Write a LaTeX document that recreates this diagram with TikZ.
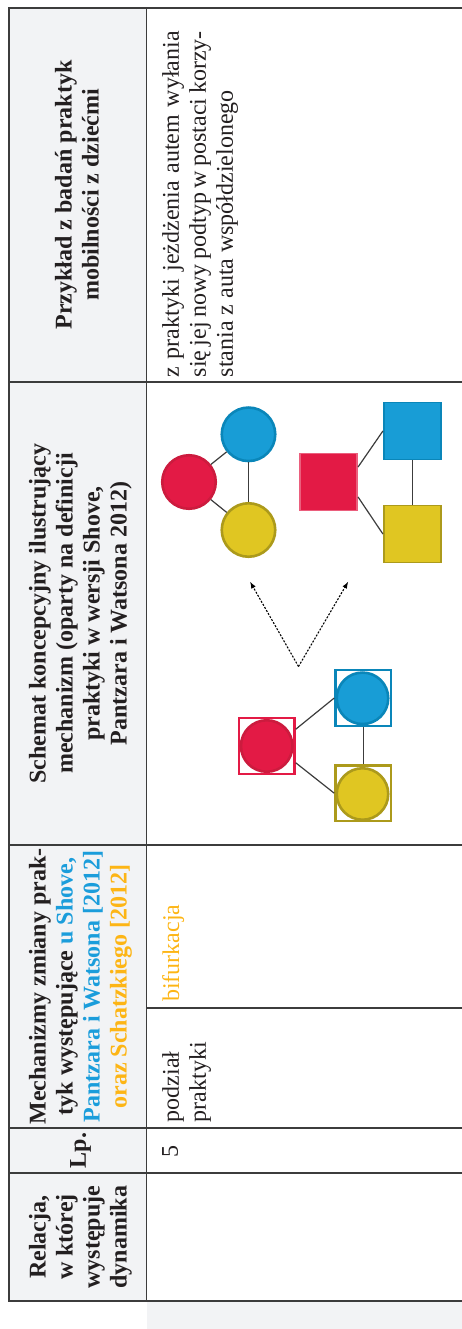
\documentclass[tikz,border=0pt]{standalone}
\usepackage{fontspec}
\setmainfont{Liberation Serif}
\usetikzlibrary{arrows.meta}

\definecolor{hdrgrey}{HTML}{F2F3F5}
\definecolor{rulegrey}{HTML}{3C3C3C}
\definecolor{txtblack}{HTML}{231F20}
\definecolor{shoveblue}{HTML}{1B9DDB}
\definecolor{schatzorange}{HTML}{FDB515}
\definecolor{elred}{HTML}{E31A45}
\definecolor{elredline}{HTML}{CC1B3E}
\definecolor{elblue}{HTML}{189DD6}
\definecolor{elblueline}{HTML}{0A86B9}
\definecolor{elyellow}{HTML}{E0C622}
\definecolor{elyellowline}{HTML}{AC9A1B}

\tikzset{
  hdr/.style={rotate=90, inner sep=0pt, align=center, text=txtblack,
    font=\bfseries\fontsize{24}{27}\selectfont},
  cell/.style={rotate=90, inner sep=0pt, anchor=north west, text=txtblack,
    font=\fontsize{24}{27}\selectfont},
  element/.style={circle, minimum size=53.5pt, inner sep=0pt, line width=2.6pt},
  material/.style={rectangle, minimum size=57pt, inner sep=0pt, line width=1.6pt},
  link/.style={draw=rulegrey, line width=1.2pt},
  splitarrow/.style={-{Latex[length=7pt,width=5pt]}, line width=1.1pt,
    dash pattern=on 2pt off 1.5pt},
}

\begin{document}
\begin{tikzpicture}[x=1pt,y=-1pt]
    \useasboundingbox (0,0) rectangle (462,1329);
    % Table background and rules.
    \fill[hdrgrey] (9,8) rectangle (146.7,1301);
    \fill[hdrgrey] (146.7,1301) rectangle (462,1329);
    \draw[rulegrey, line width=1.5pt] (462,8) -- (9,8) -- (9,1301) -- (462,1301);
    \draw[rulegrey, line width=1.5pt] (146.7,8) -- (146.7,1301);
    \foreach \y in {382,845,1128,1173}
        \draw[rulegrey, line width=1.5pt] (9,\y) -- (462,\y);
    \draw[rulegrey, line width=1.5pt] (146.7,1008) -- (462,1008);

    % Header column.
    \node[hdr] (hexample) at (77,195) {Przykład z badań praktyk\\mobilności z dziećmi};
    \node[hdr] (hscheme) at (80.4,613.5) {Schemat koncepcyjny ilustrujący\\mechanizm (oparty na definicji\\praktyki w wersji Shove,\\Pantzara i Watsona 2012)};
    \node[hdr] (hmech) at (80.4,986.5) {Mechanizmy zmiany prak-\\tyk występujące \textcolor{shoveblue}{u Shove,}\\\textcolor{shoveblue}{Pantzara i Watsona [2012]}\\\textcolor{schatzorange}{oraz Schatzkiego [2012]}};
    \node[hdr] (hlp) at (80.5,1150.5) {Lp.};
    \node[hdr] (hrel) at (80.4,1237) {Relacja,\\w której\\występuje\\dynamika};

    % Data column.
    \node[cell, text width=346pt, align=justify] (dexample) at (162,377.5) {z praktyki jeżdżenia autem wyłania\linebreak się jej nowy podtyp w postaci korzy-\linebreak stania z auta współdzielonego};
    \node[cell, text=schatzorange] (dbif) at (162,1002) {bifurkacja};
    \node[cell, align=left] (dsplit) at (162,1122.5) {podział\\praktyki};
    \node[cell, anchor=north] (dnum) at (162,1151) {5};

    % Schema: elements as circles, materials as squares.
    \node[element, fill=elred, draw=elredline] (cred) at (189,482) {};
    \node[element, fill=elblue, draw=elblueline] (cblue) at (248.5,434.3) {};
    \node[element, fill=elyellow, draw=elyellowline] (cyellow) at (248.5,530) {};
    \draw[link] (cred) -- (cblue);
    \draw[link] (cred) -- (cyellow);
    \draw[link] (cblue) -- (cyellow);

    \node[material, fill=elred, draw=elred!70!white] (sred) at (328.7,482) {};
    \node[material, fill=elblue, draw=elblueline] (sblue) at (412.2,431) {};
    \node[material, fill=elyellow, draw=elyellowline] (syellow) at (412.2,534) {};
    \draw[link] (sred.27) -- (sblue.west);
    \draw[link] (sred.-27) -- (syellow.west);
    \draw[link] (sblue.south) -- (syellow.north);

    % Splitting arrows.
    \coordinate (split) at (298.5,666.5);
    \coordinate (toleft) at (250,581.5);
    \coordinate (toright) at (348.3,581.5);
    \draw[splitarrow] (split) -- (toleft);
    \draw[splitarrow] (split) -- (toright);

    % Joint practice before the split.
    \node[material, minimum size=55.5pt, line width=2.4pt, fill=white, draw=elred] (bsred) at (266.7,746) {};
    \node[material, minimum size=55.5pt, line width=2.4pt, fill=white, draw=elblueline] (bsblue) at (363.2,698) {};
    \node[material, minimum size=55.5pt, line width=2.4pt, fill=white, draw=elyellowline] (bsyellow) at (363.2,793.2) {};
    \node[element, minimum size=51.5pt, fill=elred, draw=elredline] (bcred) at (266.7,746) {};
    \node[element, minimum size=51.5pt, fill=elblue, draw=elblueline] (bcblue) at (362.5,698.3) {};
    \node[element, minimum size=51.5pt, fill=elyellow, draw=elyellowline] (bcyellow) at (362.5,794) {};
    \draw[link] (bsred.30) -- (bsblue.west);
    \draw[link] (bsred.-30) -- (bsyellow.west);
    \draw[link] (bsblue.south) -- (bsyellow.north);
\end{tikzpicture}
\end{document}
